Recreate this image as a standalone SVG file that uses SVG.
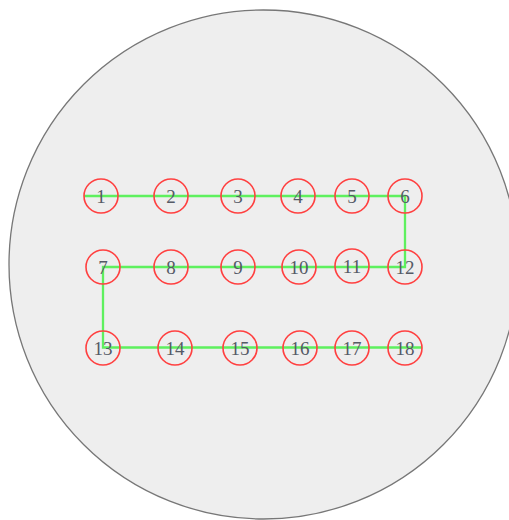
<svg xmlns="http://www.w3.org/2000/svg" width="509" height="520" viewBox="0 0 509 520">
<style>
.n circle{fill:none;stroke:#ff4040;stroke-width:1.6}
.n text{font-family:"Liberation Serif",serif;font-size:19px;fill:#555a66;text-anchor:middle;dominant-baseline:central}
.c{fill:none;stroke:#5ef05e;stroke-width:2.3}
</style>
<circle cx="263.5" cy="264.5" r="254.5" fill="#eeeeee" stroke="#777777" stroke-width="1.3"/>
<g id="connectors">
<polyline class="c" points="84,196 405,196 405,267 103,267 103,347.5 422,347.5"/>
</g>
<g id="n1" class="n"><circle cx="101" cy="196" r="17"/><text x="101" y="196">1</text></g>
<g id="n2" class="n"><circle cx="171" cy="196" r="17"/><text x="171" y="196">2</text></g>
<g id="n3" class="n"><circle cx="238" cy="196" r="17"/><text x="238" y="196">3</text></g>
<g id="n4" class="n"><circle cx="298" cy="196" r="17"/><text x="298" y="196">4</text></g>
<g id="n5" class="n"><circle cx="352" cy="196" r="17"/><text x="352" y="196">5</text></g>
<g id="n6" class="n"><circle cx="405" cy="196" r="17"/><text x="405" y="196">6</text></g>
<g id="n7" class="n"><circle cx="103" cy="267" r="17"/><text x="103" y="267">7</text></g>
<g id="n8" class="n"><circle cx="171" cy="267" r="17"/><text x="171" y="267">8</text></g>
<g id="n9" class="n"><circle cx="238" cy="267" r="17"/><text x="238" y="267">9</text></g>
<g id="n10" class="n"><circle cx="299" cy="267" r="17"/><text x="299" y="267">10</text></g>
<g id="n11" class="n"><circle cx="352" cy="266" r="17"/><text x="352" y="266">11</text></g>
<g id="n12" class="n"><circle cx="405" cy="267" r="17"/><text x="405" y="267">12</text></g>
<g id="n13" class="n"><circle cx="103" cy="348" r="17"/><text x="103" y="348">13</text></g>
<g id="n14" class="n"><circle cx="175" cy="348" r="17"/><text x="175" y="348">14</text></g>
<g id="n15" class="n"><circle cx="240" cy="348" r="17"/><text x="240" y="348">15</text></g>
<g id="n16" class="n"><circle cx="300" cy="348" r="17"/><text x="300" y="348">16</text></g>
<g id="n17" class="n"><circle cx="352" cy="348" r="17"/><text x="352" y="348">17</text></g>
<g id="n18" class="n"><circle cx="405" cy="348" r="17"/><text x="405" y="348">18</text></g>
</svg>
